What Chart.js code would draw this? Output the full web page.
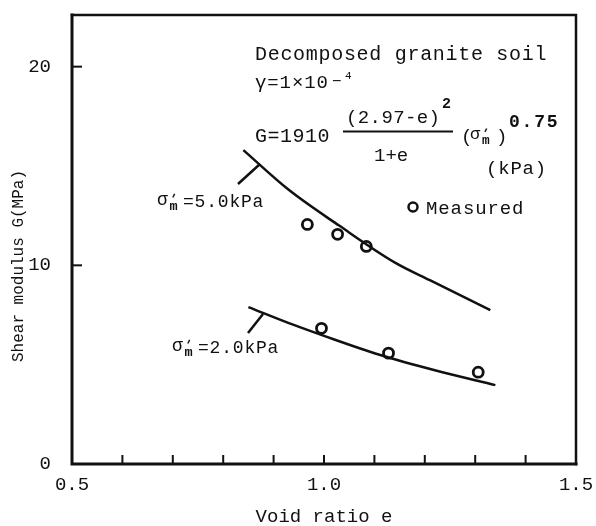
<!DOCTYPE html>
<html>
<head>
<meta charset="utf-8">
<script src="https://cdn.jsdelivr.net/npm/chart.js@4.4.1/dist/chart.umd.min.js"></script>
<style>
  html, body { margin: 0; padding: 0; background: #fff; }
  #wrap { width: 596px; height: 526px; }
</style>
</head>
<body>
<div id="wrap"><canvas id="gChart" width="596" height="526"></canvas></div>
<script>
// ---------------------------------------------------------
// Data (void ratio e vs shear modulus G in MPa)
const curve5E = [0.84, 0.93, 1.03, 1.14, 1.21, 1.33];
const curve5G = [15.8, 13.8, 12.0, 10.15, 9.25, 7.75];
const curve2E = [0.85, 0.94, 1.00, 1.11, 1.22, 1.34];
const curve2G = [7.9, 7.0, 6.45, 5.5, 4.72, 3.97];
const meas5E = [0.967, 1.027, 1.084];
const meas5G = [12.06, 11.56, 10.95];
const meas2E = [0.995, 1.128, 1.306];
const meas2G = [6.83, 5.58, 4.62];
const xTickLabels = [0.5, 1.0, 1.5];
const yTickLabels = [0, 10, 20];

const INK = "#111";
const MONO = "'Liberation Mono', 'DejaVu Sans Mono', monospace";

const toXY = (xs, ys) => xs.map((x, i) => ({ x, y: ys[i] }));

// ---------------------------------------------------------
// Frame, inward tick marks, y title
const framePlugin = {
  id: "frame",
  afterDraw(chart) {
    const { ctx, chartArea: a, scales } = chart;
    ctx.save();
    ctx.strokeStyle = INK;
    ctx.lineCap = "square";
    // box
    ctx.lineWidth = 2.5;
    ctx.beginPath();
    ctx.moveTo(a.left, a.top); ctx.lineTo(a.right, a.top); ctx.lineTo(a.right, a.bottom);
    ctx.stroke();
    ctx.lineWidth = 3;
    ctx.beginPath();
    ctx.moveTo(a.left, a.top); ctx.lineTo(a.left, a.bottom); ctx.lineTo(a.right, a.bottom);
    ctx.stroke();
    // inward ticks
    ctx.lineWidth = 2;
    ctx.lineCap = "butt";
    scales.x.ticks.forEach(t => {
      if (t.value <= 0.501 || t.value >= 1.499) return;
      const px = scales.x.getPixelForValue(t.value);
      ctx.beginPath(); ctx.moveTo(px, a.bottom); ctx.lineTo(px, a.bottom - 9); ctx.stroke();
    });
    scales.y.ticks.forEach(t => {
      if (t.value <= 0) return;
      const py = scales.y.getPixelForValue(t.value);
      ctx.beginPath(); ctx.moveTo(a.left, py); ctx.lineTo(a.left + 10, py); ctx.stroke();
    });
    // y axis title (sits lower than the axis centre in the figure)
    ctx.fillStyle = INK;
    ctx.translate(19, 266);
    ctx.rotate(-Math.PI / 2);
    ctx.font = "16px " + MONO;
    ctx.textAlign = "center";
    ctx.textBaseline = "middle";
    ctx.fillText("Shear modulus G(MPa)", 0, 0);
    ctx.restore();
  }
};

function txt(ctx, s, x, y, size, opts = {}) {
  ctx.font = (opts.bold ? "bold " : "") + size + "px " + MONO;
  ctx.letterSpacing = (opts.ls || 0) + "px";
  ctx.textAlign = opts.align || "left";
  ctx.fillText(s, x, y);
}

// sigma'_m symbol; offsets tuned to the figure
function sigmaM(ctx, x, y, size) {
  txt(ctx, "σ", x, y, size);
  txt(ctx, "m", x + size * 0.7, y + size * 0.3, size * 0.75, { bold: true });
  ctx.save();
  ctx.lineWidth = 1.4;
  ctx.beginPath();
  ctx.moveTo(x + size * 0.88, y - size * 0.42);
  ctx.lineTo(x + size * 0.98, y - size * 0.62);
  ctx.stroke();
  ctx.restore();
}

const notesPlugin = {
  id: "notes",
  afterDraw(chart) {
    const ctx = chart.ctx;
    ctx.save();
    ctx.fillStyle = INK;
    ctx.strokeStyle = INK;
    ctx.textBaseline = "alphabetic";

    txt(ctx, "Decomposed granite soil", 255, 60, 20, { ls: 0.7 });
    txt(ctx, "γ=1×10", 255, 88, 19, { ls: 0.9 });
    txt(ctx, "−", 332, 86, 16);
    txt(ctx, "4", 345, 79, 11);

    txt(ctx, "G=1910", 255, 142, 20, { ls: 0.5 });
    txt(ctx, "(2.97-e)", 346, 123, 19, { ls: 0.4 });
    txt(ctx, "2", 442, 108, 15, { bold: true });
    ctx.lineWidth = 2;
    ctx.beginPath(); ctx.moveTo(343, 131.5); ctx.lineTo(453, 131.5); ctx.stroke();
    txt(ctx, "1+e", 374, 161, 19);
    txt(ctx, "(", 461, 142, 19);
    sigmaM(ctx, 470, 139, 17);
    txt(ctx, ")", 496, 142, 19);
    txt(ctx, "0.75", 509, 127, 18, { bold: true, ls: 1.8 });
    txt(ctx, "(kPa)", 486, 174, 19, { ls: 0.8 });

    // legend
    ctx.lineWidth = 2.5;
    ctx.beginPath(); ctx.arc(413, 207, 4.5, 0, Math.PI * 2); ctx.stroke();
    txt(ctx, "Measured", 426, 214, 19, { ls: 0.9 });

    // curve labels with leaders
    sigmaM(ctx, 157, 205, 18);
    txt(ctx, "=5.0kPa", 183, 207, 18, { ls: 0.8 });
    sigmaM(ctx, 172, 351, 18);
    txt(ctx, "=2.0kPa", 198, 353, 18, { ls: 0.8 });
    ctx.lineWidth = 2.5;
    ctx.beginPath(); ctx.moveTo(238, 184); ctx.lineTo(260, 164); ctx.stroke();
    ctx.beginPath(); ctx.moveTo(248, 333); ctx.lineTo(263, 314); ctx.stroke();
    ctx.restore();
  }
};

// ---------------------------------------------------------
const lineStyle = {
  type: "line",
  borderColor: INK,
  borderWidth: 2.5,
  pointRadius: 0,
  fill: false,
  cubicInterpolationMode: "monotone",
};
const pointStyle = {
  type: "scatter",
  showLine: false,
  pointRadius: 5,
  pointBorderWidth: 2.8,
  pointBorderColor: INK,
  pointBackgroundColor: "#fff",
};

// keep the plot box where the figure has it (no label overhang padding)
const noPad = s => { s.paddingLeft = 0; s.paddingRight = 0; s.paddingTop = 0; s.paddingBottom = 0; };

new Chart(document.getElementById("gChart").getContext("2d"), {
  data: {
    datasets: [
      { ...lineStyle, label: "σm=5.0kPa", data: toXY(curve5E, curve5G) },
      { ...lineStyle, label: "σm=2.0kPa", data: toXY(curve2E, curve2G) },
      { ...pointStyle, label: "Measured 5.0", data: toXY(meas5E, meas5G) },
      { ...pointStyle, label: "Measured 2.0", data: toXY(meas2E, meas2G) },
    ],
  },
  options: {
    responsive: false,
    animation: false,
    layout: { padding: { top: 15, right: 20, left: 0, bottom: 0 } },
    plugins: { legend: { display: false }, tooltip: { enabled: false } },
    scales: {
      x: {
        type: "linear",
        min: 0.5, max: 1.5,
        afterFit: s => { s.height = 62; noPad(s); },
        border: { display: false },
        grid: { display: false },
        ticks: {
          stepSize: 0.1,
          padding: 2,
          color: INK,
          font: { family: MONO, size: 19 },
          callback: v => {
            const hit = xTickLabels.find(t => Math.abs(t - v) < 1e-6);
            return hit === undefined ? "" : hit.toFixed(1);
          },
        },
        title: {
          display: true,
          text: "Void ratio e",
          color: INK,
          font: { family: MONO, size: 19 },
          padding: { top: 0, bottom: -2 },
        },
      },
      y: {
        type: "linear",
        min: 0, max: 22.6,
        afterFit: s => { s.width = 72; noPad(s); },
        border: { display: false },
        grid: { display: false },
        ticks: {
          stepSize: 10,
          includeBounds: false,
          padding: 13,
          color: INK,
          font: { family: MONO, size: 19 },
          callback: v => (yTickLabels.includes(v) ? String(v) : ""),
        },
        title: { display: false },
      },
    },
  },
  plugins: [framePlugin, notesPlugin],
});
</script>
</body>
</html>
